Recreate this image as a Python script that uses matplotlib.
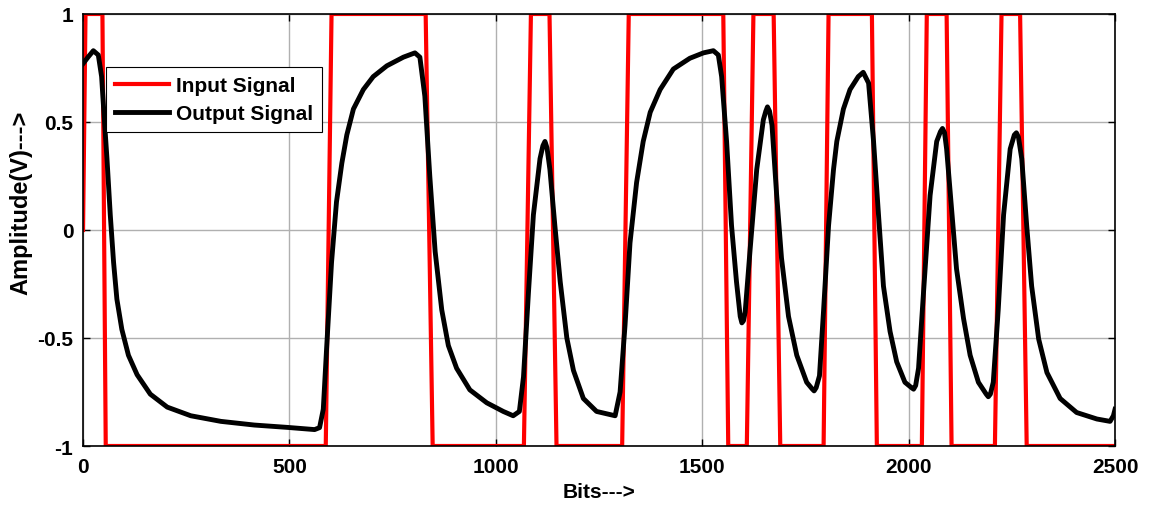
import matplotlib
matplotlib.use('Agg')
import matplotlib.pyplot as plt

plt.rcParams['font.family'] = ['Liberation Sans', 'DejaVu Sans']
plt.rcParams['font.weight'] = 'bold'
plt.rc('xtick', direction='in', labelsize=15, top=True)
plt.rc('ytick', direction='in', labelsize=15, right=True)

# input signal (edge corners)
in_x = [0, 6, 47, 55, 588, 602, 830, 847, 1068, 1085, 1130, 1147,
        1306, 1322, 1551, 1563, 1608, 1624, 1673, 1689, 1794, 1806,
        1911, 1923, 2032, 2044, 2092, 2104, 2209, 2225, 2270, 2286, 2500]
in_y = [0, 1, 1, -1, -1, 1, 1, -1, -1, 1, 1, -1,
        -1, 1, 1, -1, -1, 1, 1, -1, -1, 1,
        1, -1, -1, 1, 1, -1, -1, 1, 1, -1, -1]

# output signal
out_x = [0, 12, 25, 37, 45, 51, 58, 66, 74, 82, 94, 110, 131, 163, 204, 261,
         334, 415, 496, 561, 573, 582, 590, 602, 614, 627, 639, 655, 679, 703,
         736, 776, 804, 816, 828, 840, 853, 869, 885, 905, 937, 978, 1018, 1042,
         1057, 1067, 1079, 1091, 1107, 1114, 1119, 1124, 1131, 1143, 1156, 1172,
         1188, 1212, 1244, 1289, 1301, 1313, 1325, 1341, 1357, 1374, 1398, 1430,
         1470, 1503, 1527, 1539, 1547, 1559, 1571, 1583, 1592, 1596, 1600, 1604,
         1616, 1632, 1648, 1654, 1658, 1663, 1669, 1680, 1692, 1709, 1729, 1753,
         1766, 1771, 1776, 1784, 1794, 1806, 1818, 1826, 1842, 1858, 1878, 1890,
         1903, 1915, 1927, 1939, 1955, 1971, 1991, 2007, 2012, 2017, 2024, 2036,
         2052, 2068, 2077, 2082, 2087, 2092, 2104, 2116, 2133, 2149, 2169, 2188,
         2193, 2198, 2205, 2217, 2230, 2246, 2256, 2261, 2266, 2274, 2286, 2298,
         2315, 2335, 2367, 2407, 2456, 2488, 2496, 2500]
out_y = [0.77, 0.80, 0.83, 0.81, 0.71, 0.53, 0.33, 0.07, -0.15, -0.32, -0.46,
         -0.58, -0.67, -0.76, -0.82, -0.86, -0.886, -0.903, -0.914, -0.924,
         -0.915, -0.83, -0.55, -0.15, 0.13, 0.31, 0.44, 0.56, 0.65, 0.71, 0.76,
         0.80, 0.82, 0.80, 0.62, 0.25, -0.10, -0.37, -0.535, -0.64, -0.74, -0.80,
         -0.84, -0.86, -0.84, -0.68, -0.29, 0.07, 0.33, 0.39, 0.41, 0.38, 0.28,
         0.02, -0.24, -0.50, -0.65, -0.78, -0.84, -0.86, -0.75, -0.44, -0.06,
         0.22, 0.41, 0.545, 0.65, 0.745, 0.795, 0.82, 0.83, 0.81, 0.71, 0.41,
         0.02, -0.24, -0.40, -0.43, -0.42, -0.38, -0.09, 0.28, 0.51, 0.55, 0.57,
         0.55, 0.485, 0.17, -0.13, -0.40, -0.58, -0.705, -0.735, -0.745, -0.73,
         -0.675, -0.37, 0.02, 0.28, 0.41, 0.56, 0.65, 0.71, 0.73, 0.68, 0.41,
         0.07, -0.26, -0.47, -0.61, -0.705, -0.73, -0.737, -0.72, -0.64, -0.29,
         0.16, 0.41, 0.455, 0.47, 0.45, 0.375, 0.10, -0.18, -0.41, -0.58, -0.705,
         -0.76, -0.772, -0.76, -0.705, -0.37, 0.07, 0.375, 0.44, 0.45, 0.43,
         0.33, 0.02, -0.26, -0.505, -0.66, -0.78, -0.845, -0.875, -0.886, -0.86,
         -0.83]

x_ticks = [0, 500, 1000, 1500, 2000, 2500]
y_ticks = [-1, -0.5, 0, 0.5, 1]
y_labels = ['-1', '-0.5', '0', '0.5', '1']

fig = plt.figure(figsize=(11.5, 5.06), dpi=100)
ax = fig.add_axes([0.0722, 0.1166, 0.8974, 0.8538])

ax.plot(in_x, in_y, color='#ff0000', linewidth=3, label='Input Signal')
ax.plot(out_x, out_y, color='black', linewidth=3.5, label='Output Signal')

ax.set_xlim(0, 2500)
ax.set_ylim(-1, 1)
ax.set_xticks(x_ticks)
ax.set_yticks(y_ticks, y_labels)
ax.grid(color='#b0b0b0', linewidth=1)
ax.tick_params(axis='x', length=5, width=1, pad=8)
ax.tick_params(axis='y', length=5, width=1, pad=7)
for s in ax.spines.values():
    s.set_linewidth(1.2)

ax.set_xlabel('Bits--->', fontsize=15, fontweight='bold')
ax.xaxis.set_label_coords(0.5, -0.083)
ax.set_ylabel('Amplitude(V)--->', fontsize=17, fontweight='bold')
ax.yaxis.set_label_coords(-0.049, 0.566)

leg = ax.legend(loc='upper left', bbox_to_anchor=(0.0223, 0.877), fontsize=15,
                handlelength=2.55, fancybox=False, framealpha=1, borderaxespad=0,
                borderpad=0.45, labelspacing=0.4, handletextpad=0.35)
leg.get_frame().set_edgecolor('black')
leg.get_frame().set_linewidth(0.8)

fig.savefig('out.png', dpi=100)
